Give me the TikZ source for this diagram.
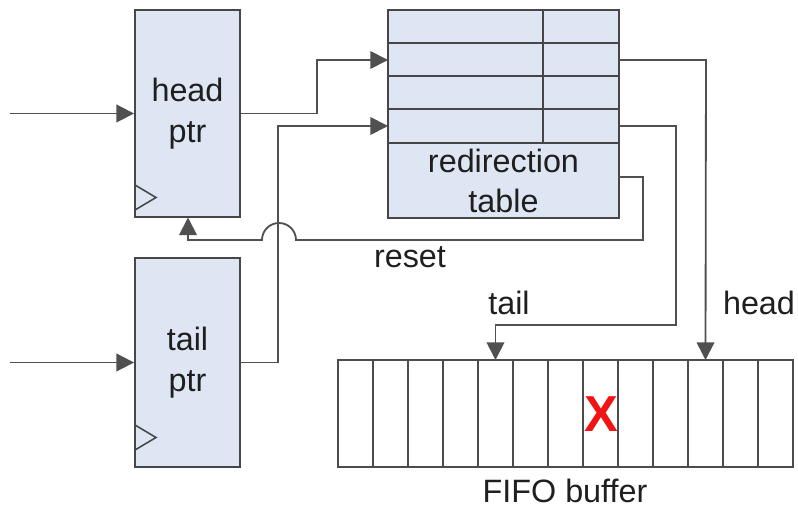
\documentclass[tikz,border=0pt]{standalone}
\usepackage{fontspec}
\setmainfont{Liberation Sans}
\usetikzlibrary{arrows.meta}

\definecolor{boxfill}{RGB}{222,230,243}
\definecolor{boxline}{RGB}{70,70,70}
\definecolor{wireline}{RGB}{80,80,80}
\definecolor{markred}{RGB}{240,20,20}

\tikzset{
	regbox/.style={draw=boxline, fill=boxfill, line width=1.3pt, inner sep=0pt, align=center},
	wire/.style={draw=wireline, line width=1.3pt},
	arr/.style={-{Triangle[length=12.5pt, width=12.5pt]}},
	lbl/.style={text=black!88, font=\fontsize{23}{29}\selectfont, inner sep=0pt}
}

\begin{document}
\begin{tikzpicture}[x=0.025cm, y=-0.025cm]

	\useasboundingbox (0,0) rectangle (798,510);

	% pointer registers
	\node[regbox, lbl, minimum width=2.625cm, minimum height=5.175cm] (hp) at (187.5,113.5) {head\\ptr};
	\node[regbox, lbl, minimum width=2.625cm, minimum height=5.225cm] (tp) at (187.5,362.5) {tail\\ptr};

	\draw[draw=boxline, line width=1.1pt] (135,185) -- (156,197.5) -- (135,210);
	\draw[draw=boxline, line width=1.1pt] (135,425) -- (156,437.5) -- (135,450);

	% redirection table
	\node[regbox, minimum width=5.775cm, minimum height=5.2cm] (tbl) at (503.5,114) {};
	\foreach \y in {43,76,109,143}
		\draw[draw=boxline, line width=1.3pt] (388,\y) -- (619,\y);
	\draw[draw=boxline, line width=1.3pt] (543,10) -- (543,143);
	\node[lbl, align=center] (tbltxt) at (503.5,181) {redirection\\table};

	\coordinate (r2w) at (388,60);
	\coordinate (r4w) at (388,126);
	\coordinate (r2e) at (619,60);
	\coordinate (r4e) at (619,126);
	\coordinate (rste) at (619,177);

	% FIFO buffer
	\node[draw=black!70, line width=1.3pt, minimum width=11.375cm, minimum height=2.675cm] (fifo) at (565.5,413.5) {};
	\foreach \i in {1,...,12}
		\draw[draw=black!70, line width=1.3pt] (338+35*\i,360) -- (338+35*\i,467);
	\foreach \i in {1,...,13}
		\coordinate (c\i) at (320.5+35*\i,360);

	\node[text=markred, font=\fontsize{36}{36}\selectfont\bfseries, inner sep=0pt] (mark) at (601,414) {X};
	\node[lbl] (fifolbl) at (565,491) {FIFO buffer};

	% inputs
	\coordinate (hin) at (10,113.5);
	\coordinate (tin) at (10,362.5);
	\draw[wire, arr] (hin) -- (hp.west);
	\draw[wire, arr] (tin) -- (tp.west);

	% pointers into the table
	\draw[wire, arr] (hp.east) -- (317,113.5) |- (r2w);
	\draw[wire, arr] (tp.east) -- (278,362.5) |- (r4w);

	% reset back to head ptr
	\coordinate (rst) at (188,217.5);
	\draw[wire, arr] (rste) -- (643,177) -- (643,240) -- (296,240)
		arc[start angle=0, end angle=-180, radius=17] -- (188,240) -- (rst);
	\node[lbl] (rstlbl) at (410,257) {reset};

	% table outputs to the buffer
	\draw[wire, arr] (r2e) -- (706,60) -- (c11);
	\draw[wire, arr] (r4e) -- (676,126) -- (676,325) -| (c5);
	\node[lbl] (taillbl) at (509,303) {tail};
	\node[lbl] (headlbl) at (759,303) {head};

\end{tikzpicture}
\end{document}
